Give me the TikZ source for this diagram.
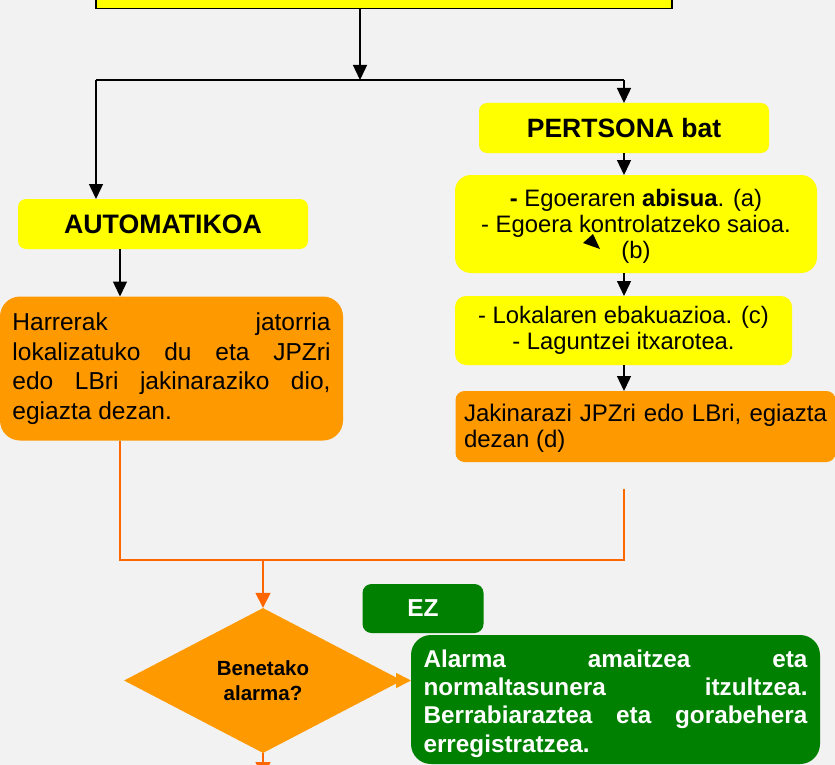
\documentclass[tikz,border=0pt]{standalone}
\usepackage{fontspec}
\setmainfont{Liberation Sans}
\usetikzlibrary{arrows.meta,shapes.geometric}
\definecolor{bg}{HTML}{F2F2F2}
\definecolor{yel}{HTML}{FFFF00}
\definecolor{ora}{HTML}{FF9900}
\definecolor{oline}{HTML}{FF6600}
\definecolor{grn}{HTML}{008000}
\newcommand\jl[2]{\makebox[#1][s]{#2}}
\newcommand\lowerby[2]{\raisebox{-#1}[\height][\depth]{#2}}
\begin{document}
\begin{tikzpicture}[x=1pt,y=-1pt,
  blk/.style={line width=1.4pt,black},
  arr/.style={blk,-{Triangle[length=15pt,width=14pt]}},
  oln/.style={line width=1.6pt,oline},
  oarr/.style={oln,-{Triangle[length=15pt,width=15pt]}},
  boxbase/.style={inner sep=0pt,outer sep=0pt,draw=none},
  ybox/.style={boxbase,fill=yel},
  obox/.style={boxbase,fill=ora},
  gbox/.style={boxbase,fill=grn,text=white},
  bodyr/.style={font=\fontsize{23.8}{26}\selectfont},
]
\useasboundingbox (0,0) rectangle (835,765);
\clip (0,0) rectangle (835,765);
\fill[bg] (0,0) rectangle (835,765);

% top box
\node[draw=black,line width=1.4pt,fill=yel,inner sep=0pt,minimum width=576pt,minimum height=40pt,anchor=south] (top) at (384,9) {};

% second row
\node[ybox,rounded corners=8pt,minimum width=290pt,minimum height=50pt,font=\bfseries\fontsize{26.5}{30}\selectfont] (pers) at (624,128) {PERTSONA bat};
\node[ybox,rounded corners=8pt,minimum width=290pt,minimum height=50pt,font=\bfseries\fontsize{26.7}{30}\selectfont] (auto) at (163,224) {AUTOMATIKOA};

% right column
\node[ybox,rounded corners=16pt,minimum width=362pt,minimum height=98pt,align=center] (b2) at (636,224)
  {\lowerby{2pt}{\parbox{360pt}{\centering\fontsize{23.8}{26}\selectfont\textbf{-} Egoeraren \textbf{abisua}. (a)\\- Egoera kontrolatzeko saioa.\\(b)}}};
\node[ybox,rounded corners=11pt,minimum width=337pt,minimum height=69pt,bodyr,align=center] (b3) at (623.5,330.5)
  {- Lokalaren ebakuazioa. (c)\\- Laguntzei itxarotea.};
\node[obox,rounded corners=9pt,minimum width=380pt,minimum height=71pt,align=left] (b4) at (645.5,426.5)
  {\lowerby{2pt}{\parbox{363pt}{\fontsize{24}{25.5}\selectfont\jl{363pt}{Jakinarazi JPZri edo LBri, egiazta}\\dezan (d)}}};

% left column
\node[obox,rounded corners=20pt,minimum width=343pt,minimum height=144pt,align=left,font=\fontsize{24.5}{29.5}\selectfont] (lbox) at (171.5,368.5)
  {\jl{318pt}{Harrerak jatorria}\\\jl{318pt}{lokalizatuko du eta JPZri}\\\jl{318pt}{edo LBri jakinaraziko dio,}\\egiazta dezan.};

% decision
\node[diamond,fill=ora,inner sep=0pt,minimum width=278pt,minimum height=145pt,align=center,font=\bfseries\fontsize{20.5}{25}\selectfont] (dia) at (263,680.5)
  {Benetako\\alarma?};
\node[gbox,rounded corners=9pt,minimum width=121pt,minimum height=49pt,font=\bfseries\fontsize{24.5}{28}\selectfont] (ez) at (423,608.5) {EZ};
\node[gbox,rounded corners=20pt,minimum width=409pt,minimum height=129pt,align=left] (grn) at (615.5,699.5)
  {\lowerby{4pt}{\parbox{384pt}{\bfseries\fontsize{24.3}{28.3}\selectfont\jl{384pt}{Alarma amaitzea eta}\\\jl{384pt}{normaltasunera itzultzea.}\\\jl{384pt}{Berrabiaraztea eta gorabehera}\\erregistratzea.}}};

% black connectors
\coordinate (j) at (360,80);
\coordinate (jl) at (96,80);
\coordinate (jr) at (624,80);
\coordinate (ax) at (120,0);
\draw[arr] (top.south -| j) -- (j);
\draw[blk] (jl) -- (jr);
\draw[arr] (jl) -- (auto.north -| jl);
\draw[arr] (jr) -- (pers.north -| jr);
\draw[arr] (pers.south) -- (b2.north -| pers.south);
\draw[arr] (b2.south -| pers.south) -- (b3.north -| pers.south);
\draw[arr] (b3.south -| pers.south) -- (b4.north -| pers.south);
\draw[arr] (auto.south -| ax) -- (lbox.north -| ax);

% stray arrowhead inside box
\fill[black] (583,243) -- (593,234) -- (600,249) -- cycle;

% orange connectors
\coordinate (o3) at (624,560);
\coordinate (o4) at (624,489);
\draw[oln] (lbox.south -| ax) |- (o3) -- (o4);
\draw[oarr] (dia.north |- o3) -- (dia.north);
\draw[-{Triangle[length=15pt,width=15pt]},ora,line width=1.6pt] (dia.east) -- (grn.west |- dia.east);
\coordinate (bot) at (263,777);
\draw[oarr] (dia.south) -- (bot);
\end{tikzpicture}
\end{document}
